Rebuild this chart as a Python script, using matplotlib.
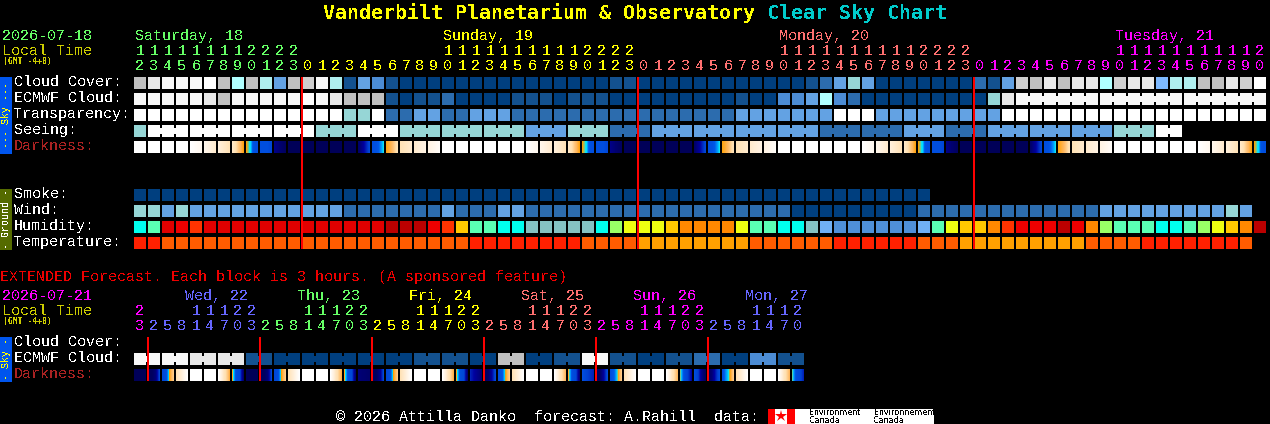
import numpy as np
import matplotlib
matplotlib.use("Agg")
import matplotlib.pyplot as plt
from matplotlib.colors import LinearSegmentedColormap
from matplotlib.patches import Rectangle

# ---------- DATA ----------
cloud_cover = list("hjkkkwhghF" "ehikFbedba" "aaaaaaaaaa" "aaaabbaaaa" "aaaaaaaabc"
                   "efeaaaaaaa" "cbeihjhjjg" "ijjEFFhhji" "w")
ecmwf_cloud = list("kkkkkjhkkk" "kkwkjhhhba" "bbcaaaabbb" "abbbaaaaaa" "aaabaaddeg"
                   "dcaaaaaaaa" "afjkkkkkkk" "kkkkkkkkkk" "k")
transparency = list("wwwwwwwwww" "wwwwwffwcc" "eecceeeccc" "cccccccccc" "ccceeeeeee"
                    "wwweeeeeee" "eewwwwwwww" "wwwwwwwwww" "w")
seeing = list("fwwwwwwwww" "wwwfffwwwf" "ffffffffee" "efffccceee" "eeeeeeeeec"
              "ccccceeecc" "ceeeeeeeee" "fffww")
smoke = list("aaaaaaaaaa" "aaaaaaaaaa" "aaaaaaaaaa" "aaaaaaaaaa" "aaaaaaaaaa" "aaaaaaa")
wind = list("ffefeeeeee" "eeeeeccccc" "ccecccee" "cc" "cccccccccc" "cccccccaaa"
            "aaaaaacccc" "ccccccccce" "eeeeeeeefe")
humidity = list("CMrROrrrrr" "rrrrrrrrDD" "DROYMMCCTT" "TTTCLZZZYo" "oooZMMCCTS"
                "ssssssSMZY" "YoORRRDRoL" "MMMCCMLZYo" "D")
temperature = list("XXoooooooo" "oooooooooo" "ooooXXXXXX" "XXooooAAAA" "AAAAoooooo"
                   "XXXXXXoooA" "AAAAAAAAoo" "ooXXXXXXXo")
ext_ecmwf = list("kkkkjjjjbbaaaaaaaaaabbbbaahhaabbkkbbaabbccaaddbb")

# darkness stops inside each cell (0 = deep night, 1 = daylight)
W = (1, 1)
N = (.03, .03)
dark_cycle = [W, W, W, W, (1, .93), (.92, .8), (.85, .72), (.78, .65, .54),
              (.53, .51, .49, .38, .36, .36), (.36, .36, .36, .33), (.15, .05), N,
              N, N, N, N, (.08, .2, .33), (.36, .37, .42, .5),
              (.54, .6, .72), (.72, .8), (.8, .88), (.88, .97), W, W]
main_darkness = dark_cycle + dark_cycle + dark_cycle + dark_cycle[:9]
ext_darkness = [N, (.05, .05, .12, .33), (.33, .36, .55, .65), (.72, .85, 1), W, W, (1, .75, .58), (.55, .36, .33, .1),
                N, (.05, .05, .12, .33), (.33, .36, .55, .65), (.72, .85, 1), W, W, (1, .75, .58), (.55, .36, .33, .1),
                (.12, .08), (.05, .05, .15, .33), (.33, .36, .55, .65), (.72, .85, 1), W, W, (1, .75, .58), (.55, .36, .33, .1),
                (.25, .1), (.05, .08, .2, .34), (.35, .38, .54, .65), (.72, .85, 1), W, W, (1, .75, .6), (.56, .36, .33, .12),
                (.36, .3, .25), (.05, .07, .2, .34), (.35, .4, .52, .65), (.72, .85, 1), W, W, (1, .75, .6), (.515, .36, .3, .2),
                (.36, .3, .15, .05), (.05, .12, .25, .35), (.36, .45, .53, .65), (.72, .85, 1), W, W, (1, .75, .6), (.51, .36, .33, .25)]

main_tens = list("111111112222" "          1111111111" "2222"
                 "          1111111111" "2222" "          1111111111" "2")
main_units = list("234567890123" "012345678901" "234567890123"
                  "012345678901" "234567890123" "012345678901" "234567890")
ext_tens = list("2   11122   11122   11122   11122   11122   1112")
ext_units = list("3" "25814703" "25814703" "25814703" "25814703" "25814703" "2581470")

main_days = [("Saturday, 18", 135, 0, 12, "#66FF66"), ("Sunday, 19", 443, 12, 36, "#FFFF00"),
             ("Monday, 20", 779, 36, 60, "#FF7070"), ("Tuesday, 21", 1115, 60, 81, "#FF00FF")]
ext_days = [("", 0, 0, 1, "#FF00FF"), ("Wed, 22", 185, 1, 9, "#6666FF"), ("Thu, 23", 297, 9, 17, "#66FF66"),
            ("Fri, 24", 409, 17, 25, "#FFFF00"), ("Sat, 25", 521, 25, 33, "#FF7070"),
            ("Sun, 26", 633, 33, 41, "#FF00FF"), ("Mon, 27", 745, 41, 48, "#6666FF")]

main_midnight_cols = [12, 36, 60]
ext_midnight_cols = [1, 9, 17, 25, 33, 41]

# ---------- STYLE ----------
sky = {"a": "#003F7F", "b": "#13518F", "c": "#2C6CAE", "d": "#4C8CD4", "e": "#63A2E3", "E": "#7DB9FF",
       "f": "#96D6D6", "F": "#AFEFEF", "g": "#B0FFFF", "h": "#C0C0C0", "i": "#CFCFCF", "j": "#E8E8E8",
       "k": "#F8F8F8", "w": "#FFFFFF"}
hum = {"C": "#00FFEE", "M": "#5AFFB4", "R": "#EE0000", "r": "#E00000", "O": "#FF3300", "D": "#BB0000",
       "Y": "#FFC800", "o": "#FF8800", "L": "#99FF66", "Z": "#EEFF11", "T": "#85C2C2", "S": "#70B0F5",
       "s": "#4F8FD8"}
tmp = {"X": "#FF2000", "o": "#FF5C00", "A": "#FFA000"}
dark_cmap = LinearSegmentedColormap.from_list("dark", [
    (0.00, "#000050"), (0.10, "#000070"), (0.20, "#0000A0"), (0.30, "#0040D0"), (0.40, "#0058E8"),
    (0.47, "#00B0FF"), (0.50, "#00E8FF"), (0.53, "#FFA000"), (0.60, "#FFB860"), (0.70, "#FFE0B0"),
    (0.85, "#FFF0DC"), (1.00, "#FFFFFF")])

X0, PITCH, CELL = 134, 14, 12
MONO = "Liberation Mono"
plt.rcParams["text.antialiased"] = False
plt.rcParams["font.family"] = MONO

fig = plt.figure(figsize=(12.7, 4.24), dpi=100, facecolor="black")
ax = fig.add_axes([0, 0, 1, 1], facecolor="black")
ax.set_axis_off()


def txt(x, y, s, color="white", px=15, **kw):
    ax.text(x, y, s, color=color, fontsize=px * 0.72, va="baseline", **kw)


def rect(x, y, w, h, color, z=2):
    ax.add_patch(Rectangle((x, y), w, h, facecolor=color, edgecolor="none", linewidth=0,
                           antialiased=False, zorder=z))


def row(codes, y, palette, link=None):
    for i, c in enumerate(codes):
        x = X0 + i * PITCH
        rect(x, y, CELL, CELL, palette[c])
        if link is not None and i + 1 < len(codes) and link(i):
            rect(x + CELL, y + 3, PITCH - CELL, CELL - 6, palette[c])


def dark_row(cells, y):
    for i, stops in enumerate(cells):
        x = X0 + i * PITCH
        samples = np.interp(np.linspace(0, 1, CELL), np.linspace(0, 1, len(stops)), stops)
        ax.imshow(samples[None, :], cmap=dark_cmap, vmin=0, vmax=1, extent=[x, x + CELL, y + CELL, y],
                  aspect="auto", interpolation="nearest", zorder=2)


# title
txt(323, 19, "Vanderbilt Planetarium & Observatory", "#FFFF00", 20, fontweight="bold", family="DejaVu Sans Mono")
txt(767, 19, "Clear Sky Chart", "#00CCCC", 20, fontweight="bold", family="DejaVu Sans Mono")

# main header
txt(2, 40, "2026-07-18", "#66FF66")
txt(2, 55, "Local Time", "#CCCC00")
txt(3, 64, "(GMT -4+0)", "#CCCC00", 8, fontweight="bold", family="DejaVu Sans Mono")
for label, lx, a, b, col in main_days:
    txt(lx, 40, label, col)
    for i in range(a, b):
        cx = X0 + i * PITCH + CELL / 2
        if main_tens[i] != " ":
            txt(cx, 55, main_tens[i], col, ha="center")
        txt(cx, 70, main_units[i], col, ha="center")

# main rows
SKY_Y = [77, 93, 109, 125, 141]
GROUND_Y = [189, 205, 221, 237]
for name, y in zip(["Cloud Cover:", "ECMWF Cloud:", "Transparency:", "Seeing:"], SKY_Y):
    txt(14, y + 9, name)
txt(14, SKY_Y[4] + 9, "Darkness:", "#AA2222")
for name, y in zip(["Smoke:", "Wind:", "Humidity:", "Temperature:"], GROUND_Y):
    txt(14, y + 9, name)

row(cloud_cover, SKY_Y[0], sky)
row(ecmwf_cloud, SKY_Y[1], sky, link=lambda i: i >= 63 and (i - 63) % 6 != 5)
row(transparency, SKY_Y[2], sky)
row(seeing, SKY_Y[3], sky, link=lambda i: i >= 1 and (i - 1) % 3 != 2)
dark_row(main_darkness, SKY_Y[4])
row(smoke, GROUND_Y[0], sky)
row(wind, GROUND_Y[1], sky)
row(humidity, GROUND_Y[2], hum)
row(temperature, GROUND_Y[3], tmp)

for c in main_midnight_cols:
    rect(X0 + c * PITCH - 1, 77, 2, 172, "#FF0000", z=3)

# side bars
rect(0, 77, 12, 77, "#0055EE")
ax.text(6, 115, "--- Sky ---", color="#FFFF00", fontsize=10 * 0.72, rotation=90, ha="center", va="center")
rect(0, 189, 12, 61, "#556B00")
ax.text(6, 219, "- Ground -", color="white", fontsize=10 * 0.72, rotation=90, ha="center", va="center")

# extended forecast
txt(0, 281, "EXTENDED Forecast. Each block is 3 hours. (A sponsored feature)", "#EE0000")
txt(2, 300, "2026-07-21", "#FF00FF")
txt(2, 315, "Local Time", "#CCCC00")
txt(3, 324, "(GMT -4+0)", "#CCCC00", 8, fontweight="bold", family="DejaVu Sans Mono")
for label, lx, a, b, col in ext_days:
    if label:
        txt(lx, 300, label, col)
    for i in range(a, b):
        cx = X0 + i * PITCH + CELL / 2
        if ext_tens[i] != " ":
            txt(cx, 315, ext_tens[i], col, ha="center")
        txt(cx, 330, ext_units[i], col, ha="center")

txt(14, 346, "Cloud Cover:")
txt(14, 362, "ECMWF Cloud:")
txt(14, 378, "Darkness:", "#AA2222")
row(ext_ecmwf, 353, sky, link=lambda i: i % 2 == 0)
dark_row(ext_darkness, 369)
for c in ext_midnight_cols:
    rect(X0 + c * PITCH - 1 - 0, 337, 2, 44, "#FF0000", z=3)
rect(0, 337, 12, 45, "#0055EE")
ax.text(6, 359, "- Sky -", color="#FFFF00", fontsize=10 * 0.72, rotation=90, ha="center", va="center")

# footer
txt(336, 421, "\u00a9 2026 Attilla Danko  forecast: A.Rahill  data:")
rect(768, 409, 166, 15, "#FFFFFF")
rect(768, 409, 7, 15, "#FF0000", z=3)
rect(787, 409, 8, 15, "#FF0000", z=3)
ax.plot([781], [416], marker="*", ms=9, color="#FF0000", mew=0, zorder=3)
for tx, ty, s in [(809, 415, "Environment"), (809, 423, "Canada"), (874, 415, "Environnement"), (874, 423, "Canada")]:
    ax.text(tx, ty, s, color="black", fontsize=8 * 0.72, va="baseline", family="DejaVu Sans", zorder=4)

ax.set_xlim(0, 1270)
ax.set_ylim(424, 0)
fig.savefig("out.png", dpi=100, facecolor="black")
